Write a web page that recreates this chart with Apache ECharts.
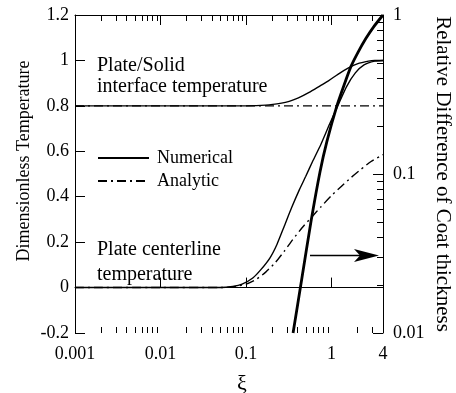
<!DOCTYPE html>
<html>
<head>
<meta charset="utf-8">
<script src="https://cdn.jsdelivr.net/npm/echarts@6/dist/echarts.min.js"></script>
<style>
html, body { margin: 0; padding: 0; background: #fff; }
#main { width: 456px; height: 393px; }
</style>
</head>
<body>
<div id="main"></div>
<script>
// values (xi on a log axis)
var interfaceNumXi = [0.001, 0.01, 0.05, 0.1, 0.17, 0.26, 0.32, 0.41, 0.54, 0.75, 0.92, 1.2, 1.58, 2.0, 2.7, 3.2, 4];
var interfaceNumT = [0.8, 0.8, 0.8, 0.8, 0.803, 0.812, 0.82, 0.835, 0.858, 0.89, 0.91, 0.94, 0.967, 0.985, 0.997, 1.0, 1.0];

var interfaceAnaXi = [0.001, 4];
var interfaceAnaT = [0.8, 0.8];

var centerNumXi = [0.001, 0.01, 0.05, 0.07, 0.09, 0.12, 0.15, 0.19, 0.23, 0.28, 0.34, 0.42, 0.5, 0.6, 0.75, 0.95, 1.2, 1.5, 1.9, 2.4, 3.2, 4];
var centerNumT = [0, 0, 0, 0.005, 0.015, 0.042, 0.08, 0.13, 0.19, 0.27, 0.35, 0.43, 0.49, 0.555, 0.63, 0.72, 0.805, 0.885, 0.945, 0.98, 0.997, 1.0];

var centerAnaXi = [0.001, 0.01, 0.05, 0.07, 0.1, 0.13, 0.17, 0.22, 0.28, 0.35, 0.45, 0.585, 0.75, 1.0, 1.3, 1.7, 2.2, 2.9, 4];
var centerAnaT = [0, 0, 0, 0.003, 0.015, 0.035, 0.068, 0.11, 0.16, 0.21, 0.262, 0.31, 0.355, 0.405, 0.445, 0.485, 0.52, 0.555, 0.585];

// relative difference of coat thickness (right log axis)
var coatXi = [0.355, 0.452, 0.576, 0.733, 0.885, 1.16, 1.4, 1.69, 2.04, 2.53, 3.14, 4];
var coatDiff = [0.01, 0.0224, 0.0504, 0.103, 0.161, 0.27, 0.362, 0.475, 0.582, 0.713, 0.848, 1.0];

// minor log ticks
var mantissas = [2, 3, 4, 5, 6, 7, 8, 9];
var xDecades = [0.001, 0.01, 0.1, 1];
var yDecades = [0.01, 0.1];

var font = 'Liberation Serif';
var dashDot = [9, 4, 2, 4];

function pairs(xs, ys) {
    return xs.map(function (x, i) { return [x, ys[i]]; });
}

function minorTicks(decades, max) {
    var out = [];
    decades.forEach(function (d) {
        mantissas.forEach(function (m) {
            var v = +(d * m).toPrecision(3);
            if (v < max) out.push(v);
        });
    });
    return out;
}

var xMinor = minorTicks(xDecades, 4);
var yMinor = minorTicks(yDecades, 1);

function crisp(v) { return Math.round(v) + 0.5; }

var axisCommon = {
    axisLine: { lineStyle: { color: '#000', width: 1 } },
    axisTick: { inside: true, length: 10, lineStyle: { color: '#000', width: 1 } },
    splitLine: { show: false }
};

function lineSeries(name, xs, ys, style, extra) {
    return Object.assign({
        name: name, type: 'line', showSymbol: false, symbol: 'none',
        color: '#000', lineStyle: style, data: pairs(xs, ys)
    }, extra || {});
}

var chart = echarts.init(document.getElementById('main'));
var option = {
    animation: false,
    backgroundColor: '#fff',
    textStyle: { fontFamily: font, color: '#000' },
    grid: { left: 75, right: 73, top: 15, bottom: 60, containLabel: false, outerBoundsMode: 'none' },
    legend: {
        data: ['Numerical', 'Analytic'],
        orient: 'vertical',
        left: 92,
        top: 144,
        itemWidth: 51,
        itemHeight: 14,
        itemGap: 5,
        itemStyle: { opacity: 0 },
        textStyle: { fontFamily: font, fontSize: 18, color: '#000', lineHeight: 18, padding: [0, 0, 0, 3] }
    },
    xAxis: [
        Object.assign({
            type: 'log', logBase: 10, min: 0.001, max: 4, position: 'bottom',
            name: 'ξ', nameLocation: 'middle', nameGap: 40, nameMoveOverlap: false,
            nameTextStyle: { fontFamily: font, fontSize: 22, color: '#000', padding: [0, 0, 0, 26] },
            axisLabel: { fontFamily: font, fontSize: 18, color: '#000', margin: 12 }
        }, axisCommon),
        Object.assign({
            type: 'log', logBase: 10, min: 0.001, max: 4, position: 'top',
            axisLabel: { show: false }
        }, axisCommon)
    ],
    yAxis: [
        Object.assign({
            type: 'value', min: -0.2, max: 1.2, interval: 0.2, position: 'left',
            name: 'Dimensionless Temperature', nameLocation: 'middle', nameGap: 42, nameMoveOverlap: false,
            nameTextStyle: { fontFamily: font, fontSize: 18, color: '#000', padding: [0, 0, 0, 26] },
            axisLabel: { fontFamily: font, fontSize: 18, color: '#000', margin: 6 }
        }, axisCommon),
        Object.assign({
            type: 'log', logBase: 10, min: 0.01, max: 1, position: 'right',
            name: 'Relative Difference of Coat thickness', nameLocation: 'middle', nameGap: 49, nameRotate: -90,
            nameMoveOverlap: false,
            nameTextStyle: { fontFamily: font, fontSize: 21, color: '#000' },
            axisLabel: { fontFamily: font, fontSize: 18, color: '#000', margin: 10 }
        }, axisCommon)
    ],
    series: [
        lineSeries('Numerical', interfaceNumXi, interfaceNumT, { color: '#000', width: 1.4 }, { smooth: 0.3 }),
        lineSeries('Numerical', centerNumXi, centerNumT, { color: '#000', width: 1.4 }, { smooth: 0.2 }),
        lineSeries('Analytic', interfaceAnaXi, interfaceAnaT, { color: '#000', width: 1.4, type: dashDot }),
        lineSeries('Analytic', centerAnaXi, centerAnaT, { color: '#000', width: 1.4, type: dashDot }, { smooth: 0.2 }),
        lineSeries('Coat', coatXi, coatDiff, { color: '#000', width: 2.8 }, { yAxisIndex: 1, smooth: 0.2 }),
        {
            type: 'custom', xAxisIndex: 0, yAxisIndex: 0, silent: true,
            data: xMinor.map(function (v) { return [v, 0.5]; }),
            renderItem: function (params, api) {
                var cs = params.coordSys;
                var x = crisp(api.coord([api.value(0), api.value(1)])[0]);
                var st = { stroke: '#000', lineWidth: 1 };
                return {
                    type: 'group', children: [
                        { type: 'line', shape: { x1: x, y1: cs.y + cs.height, x2: x, y2: cs.y + cs.height - 6 }, style: st },
                        { type: 'line', shape: { x1: x, y1: cs.y, x2: x, y2: cs.y + 6 }, style: st }
                    ]
                };
            }
        },
        {
            type: 'custom', xAxisIndex: 0, yAxisIndex: 1, silent: true,
            data: yMinor.map(function (v) { return [1, v]; }),
            renderItem: function (params, api) {
                var cs = params.coordSys;
                var y = crisp(api.coord([api.value(0), api.value(1)])[1]);
                var r = cs.x + cs.width;
                return {
                    type: 'line', shape: { x1: r, y1: y, x2: r - 6, y2: y },
                    style: { stroke: '#000', lineWidth: 1 }
                };
            }
        }
    ],
    graphic: [
        {
            type: 'text', left: 97, top: 55,
            style: { text: 'Plate/Solid\ninterface temperature', fontFamily: font, fontSize: 20, lineHeight: 21, fill: '#000' }
        },
        {
            type: 'text', left: 97, top: 237,
            style: { text: 'Plate centerline\ntemperature', fontFamily: font, fontSize: 20, lineHeight: 25, fill: '#000' }
        },
        {
            type: 'line', shape: { x1: 310, y1: 255.5, x2: 362, y2: 255.5 },
            style: { stroke: '#000', lineWidth: 1.3 }
        },
        {
            type: 'polygon', shape: { points: [[379, 255.5], [354, 249], [360, 255.5], [354, 262]] },
            style: { fill: '#000' }
        }
    ]
};
chart.setOption(option);
</script>
</body>
</html>
